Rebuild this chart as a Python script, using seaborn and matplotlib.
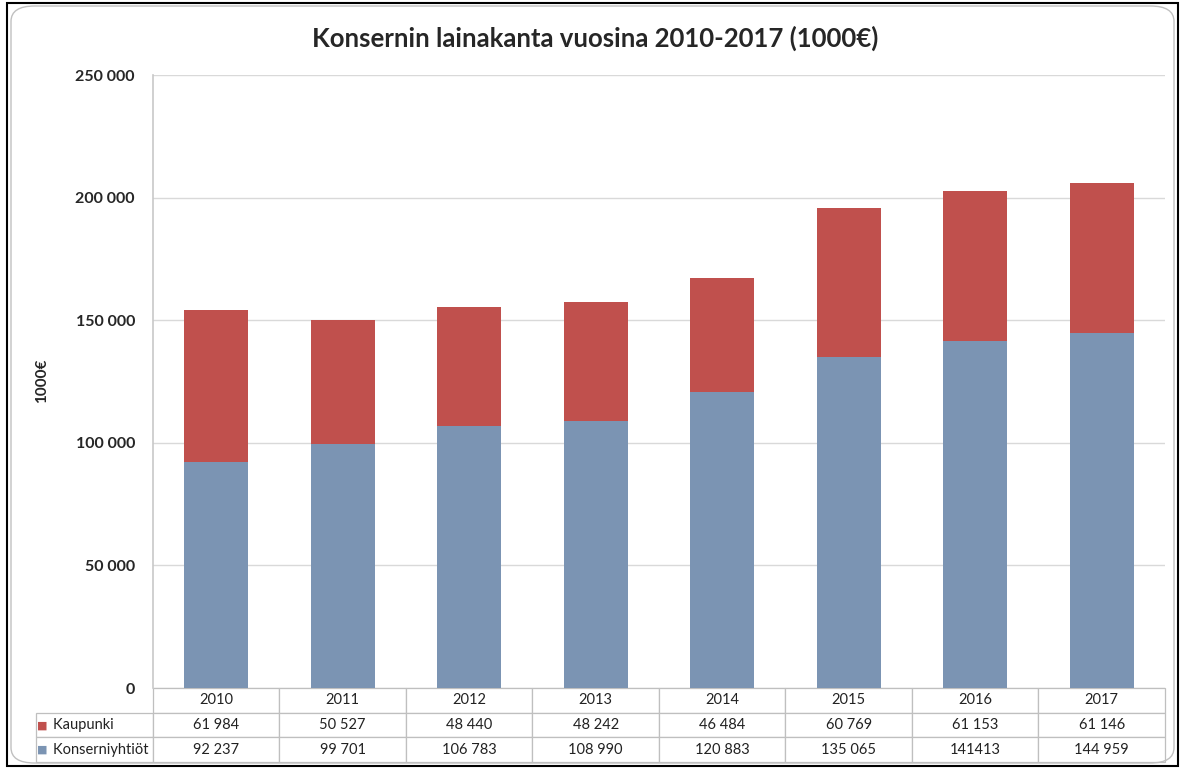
import matplotlib
matplotlib.use("Agg")
import matplotlib.pyplot as plt
import seaborn as sns
import pandas as pd
from matplotlib.patches import FancyBboxPatch, Rectangle

# === DATI ===
vuodet = ['2010', '2011', '2012', '2013', '2014', '2015', '2016', '2017']
kaupunki = [61984, 50527, 48440, 48242, 46484, 60769, 61153, 61146]
konserniyhtiot = [92237, 99701, 106783, 108990, 120883, 135065, 141413, 144959]
kaupunki_txt = ['61 984', '50 527', '48 440', '48 242', '46 484', '60 769', '61 153', '61 146']
konserni_txt = ['92 237', '99 701', '106 783', '108 990', '120 883', '135 065', '141413', '144 959']
rivit = ['Kaupunki', 'Konserniyhtiöt']
y_ticks = [0, 50000, 100000, 150000, 200000, 250000]

c_kaup = '#C0504D'
c_kons = '#7B94B3'

sns.set_style('white')
plt.rcParams['font.family'] = ['Lato', 'DejaVu Sans']

df = pd.DataFrame({'Vuosi': vuodet, 'Kaupunki': kaupunki, 'Konserniyhtiot': konserniyhtiot})
df['Yhteensa'] = df['Kaupunki'] + df['Konserniyhtiot']

W, H = 1183, 769
fig = plt.figure(figsize=(W / 100, H / 100), dpi=100)
ax = fig.add_axes([153 / W, 1 - 688 / H, 1012 / W, 613 / H])

# pinottu pylväs: ensin summa (punainen), sitten alaosa (sininen)
sns.barplot(data=df, x='Vuosi', y='Yhteensa', color=c_kaup, width=0.505, saturation=1,
            linewidth=0, edgecolor='none', ax=ax)
sns.barplot(data=df, x='Vuosi', y='Konserniyhtiot', color=c_kons, width=0.505, saturation=1,
            linewidth=0, edgecolor='none', ax=ax)

ax.set_ylim(0, 250000)
ax.set_xlim(-0.5, len(vuodet) - 0.5)
ax.set_yticks(y_ticks)
ax.set_yticklabels([f"{v:,.0f}".replace(",", " ") for v in y_ticks], fontsize=11.5, fontweight='bold')
ax.set_xticks([])
ax.set_xlabel('')
ax.set_ylabel('')
ax.tick_params(axis='y', length=0, pad=13)
ax.grid(axis='y', color='#D9D9D9', linewidth=1)
ax.set_axisbelow(True)
for s in ['top', 'right', 'bottom']:
  ax.spines[s].set_visible(False)
ax.spines['left'].set_color('#C8C8C8')
ax.spines['left'].set_linewidth(1.2)

# taulukko kuvan alla (ensimmäinen sarake = rivien nimet)
tbl_h = 74 / 613
x0 = (36 - 153) / 1012
solut = [[''] + vuodet,
         ['    ' + rivit[0]] + kaupunki_txt,
         ['    ' + rivit[1]] + konserni_txt]
lab_w = 117
col_w = [lab_w] + [1012 / len(vuodet)] * len(vuodet)
tbl = ax.table(cellText=solut, colWidths=[w / sum(col_w) for w in col_w],
               cellLoc='center', bbox=[x0, -tbl_h, 1 - x0, tbl_h])
tbl.auto_set_font_size(False)
for (r, c), cell in tbl.get_celld().items():
  cell.set_edgecolor('#BFBFBF')
  cell.set_linewidth(0.9)
  cell.get_text().set_fontsize(10.5)
  cell.get_text().set_color('#222222')
  if c == 0:
    cell.get_text().set_horizontalalignment('left')
    cell.PAD = 0.02
  if r == 0 and c == 0:
    cell.visible_edges = ''

# legendan neliöt taulukon riveille
fig.text(37 / W, 1 - 726 / H, '■', color=c_kaup, fontsize=8, va='center', ha='left', family='DejaVu Sans')
fig.text(37 / W, 1 - 750 / H, '■', color=c_kons, fontsize=8, va='center', ha='left', family='DejaVu Sans')

fig.text(595 / W, 1 - 38 / H, 'Konsernin lainakanta vuosina 2010-2017 (1000€)',
         ha='center', va='center', fontsize=18.5, fontweight='bold')
fig.text(42 / W, 1 - 381 / H, '1000€', rotation=90, ha='center', va='center',
         fontsize=11, fontweight='bold')

# kehykset
fig.patches.append(FancyBboxPatch((11 / W, 6 / H), 1163 / W, 757 / H,
                                  boxstyle='round,pad=0,rounding_size=0.02',
                                  transform=fig.transFigure, fill=False,
                                  edgecolor='#C0C0C0', linewidth=1))
fig.patches.append(Rectangle((7 / W, 3 / H), 1171 / W, 763 / H, transform=fig.transFigure,
                             fill=False, edgecolor='black', linewidth=1.5))

fig.savefig('out.png', dpi=100)
